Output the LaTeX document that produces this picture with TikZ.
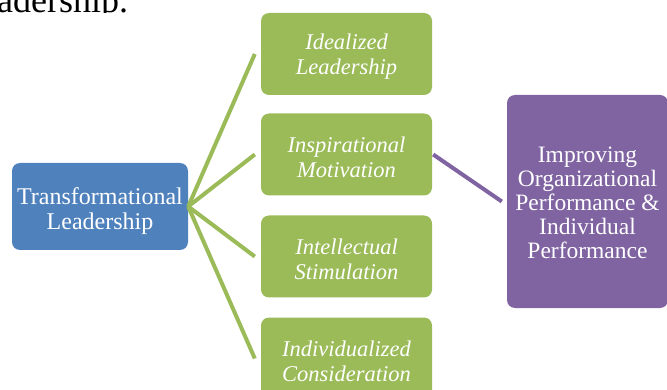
\documentclass[tikz,border=0pt]{standalone}
\usepackage{fontspec}
\setmainfont{Liberation Serif}
\definecolor{tlblue}{HTML}{4F81BD}
\definecolor{tlgreen}{HTML}{9BBB59}
\definecolor{tlpurple}{HTML}{8064A2}
\begin{document}
\begin{tikzpicture}[x=1pt,y=-1pt,
  box/.style={rectangle, rounded corners=8pt, inner sep=0pt},
  lbl/.style={inner sep=0pt, align=center, text=white},
  bluebox/.style={box, fill=tlblue, minimum width=176pt, minimum height=87pt},
  greenbox/.style={box, fill=tlgreen, minimum width=171pt, minimum height=82pt},
  purplebox/.style={box, fill=tlpurple, minimum width=161pt, minimum height=213pt},
  bluetext/.style={lbl, font=\fontsize{24}{25}\selectfont},
  greentext/.style={lbl, font=\fontsize{22.5}{25}\selectfont\itshape},
  purpletext/.style={lbl, font=\fontsize{23.5}{24}\selectfont},
  gline/.style={draw=tlgreen, line width=4pt},
  pline/.style={draw=tlpurple, line width=4pt}]
\useasboundingbox (0,0) rectangle (667,390);
\begin{scope}
\clip (0,0) rectangle (667,12.3);
\node[anchor=base west, inner sep=0pt, font=\fontsize{36}{40}\selectfont] (toptext) at (-3,12.5) {adership.};
\end{scope}
\node[bluebox] (tl) at (100,206.5) {};
\node[greenbox] (g1) at (346.5,54) {};
\node[greenbox] (g2) at (346.5,154.5) {};
\node[greenbox] (g3) at (346.5,256.5) {};
\node[greenbox] (g4) at (346.5,358.5) {};
\node[purplebox] (imp) at (587.5,201.5) {};
\node[bluetext] (tlt) at ([yshift=-4.5pt]tl.center) {Transformational\\Leadership};
\node[greentext] (g1t) at ([yshift=-2.5pt]g1.center) {Idealized\\Leadership};
\node[greentext] (g2t) at ([yshift=-2.5pt]g2.center) {Inspirational\\Motivation};
\node[greentext] (g3t) at ([yshift=-2.5pt]g3.center) {Intellectual\\Stimulation};
\node[greentext] (g4t) at ([yshift=-2.5pt]g4.center) {Individualized\\Consideration};
\node[purpletext] (impt) at ([yshift=-1.5pt]imp.center) {Improving\\Organizational\\Performance \&\\Individual\\Performance};
\foreach \g in {g1,g2,g3,g4}
  \draw[gline] (tl.east) -- ([xshift=-6pt]\g.west);
\draw[pline] ([xshift=1pt]g2.east) -- ([xshift=-5pt]imp.west);
\end{tikzpicture}
\end{document}
